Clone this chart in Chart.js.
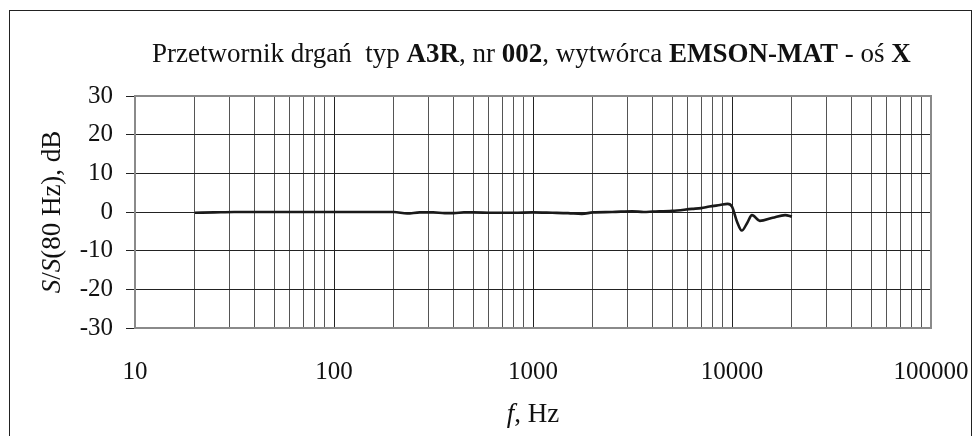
<!DOCTYPE html>
<html>
<head>
<meta charset="utf-8">
<script src="https://cdn.jsdelivr.net/npm/chart.js@4.4.1/dist/chart.umd.min.js"></script>
<style>
  html, body { margin: 0; padding: 0; background: #fff; }
  #wrap { width: 975px; height: 436px; position: relative; }
</style>
</head>
<body>
<div id="wrap"><canvas id="c" width="975" height="436"></canvas></div>
<script>
// frequency response
const freqHz = [20, 25, 31.5, 40, 50, 63, 80, 100, 125, 160, 200, 233, 270, 315, 360, 400, 450, 500, 630, 800, 1000, 1250, 1500, 1760, 2000, 2500, 3150, 3600, 4000, 5000, 6300, 7000, 7700, 8700, 9500, 10000, 10600, 11200, 11900, 12600, 13800, 16000, 18500, 20000];
const gainDb = [-0.2, -0.1, 0, 0, 0, 0, 0, 0, 0, 0, 0, -0.4, -0.1, -0.1, -0.3, -0.3, -0.1, -0.1, -0.2, -0.2, -0.1, -0.2, -0.3, -0.5, -0.1, 0, 0.2, 0, 0.1, 0.3, 0.8, 1.0, 1.4, 1.8, 2.1, 1.4, -2.5, -4.8, -2.9, -0.8, -2.3, -1.5, -0.8, -1.2];
const xTicks = [10, 100, 1000, 10000, 100000];
const yTicks = [-30, -20, -10, 0, 10, 20, 30];

const titleParts = [
  ['Przetwornik drgań  typ ', false], ['A3R', true], [', nr ', false], ['002', true],
  [', wytwórca ', false], ['EMSON-MAT', true], [' - oś ', false], ['X', true]
];

const FONT = '"Liberation Serif", "Times New Roman", serif';
const isDecade = v => Math.abs(Math.log10(v) - Math.round(Math.log10(v))) < 1e-6;

// draws a run of text pieces, each with its own style, starting at x
function drawRuns(ctx, runs, x, y, size) {
  runs.forEach(([t, style]) => {
    ctx.font = (style || '') + ' ' + size + 'px ' + FONT;
    ctx.fillText(t, x, y);
    x += ctx.measureText(t).width;
  });
}
function runsWidth(ctx, runs, size) {
  let w = 0;
  runs.forEach(([t, style]) => { ctx.font = (style || '') + ' ' + size + 'px ' + FONT; w += ctx.measureText(t).width; });
  return w;
}

// frame, title and axis titles drawn by hand (mixed bold/italic)
const decor = {
  id: 'decor',
  afterDraw(chart) {
    const ctx = chart.ctx;
    const a = chart.chartArea;
    ctx.save();
    // outer frame
    ctx.strokeStyle = '#222';
    ctx.lineWidth = 1;
    ctx.strokeRect(9.5, 10.5, 962, 500);
    // plot border
    ctx.strokeStyle = '#8a8a8a';
    ctx.lineWidth = 2;
    ctx.strokeRect(a.left, a.top, a.right - a.left, a.bottom - a.top);

    ctx.fillStyle = '#111';
    ctx.textBaseline = 'alphabetic';
    // title
    drawRuns(ctx, titleParts.map(([t, b]) => [t, b ? 'bold' : '']), 152, 62, 27);

    // x axis title
    const xt = [['f', 'italic'], [', Hz', '']];
    drawRuns(ctx, xt, (a.left + a.right) / 2 - runsWidth(ctx, xt, 27) / 2, 422, 27);

    // y axis title, rotated
    const yt = [['S', 'italic'], ['/', ''], ['S', 'italic'], ['(80 Hz), dB', '']];
    const w = runsWidth(ctx, yt, 27);
    ctx.translate(60, (a.top + a.bottom) / 2);
    ctx.rotate(-Math.PI / 2);
    drawRuns(ctx, yt, -w / 2, 0, 27);
    ctx.restore();
  }
};

new Chart(document.getElementById('c'), {
  type: 'line',
  data: {
    datasets: [{
      data: freqHz.map((f, i) => ({ x: f, y: gainDb[i] })),
      borderColor: '#1a1a1a',
      borderWidth: 2.6,
      pointRadius: 0,
      cubicInterpolationMode: 'monotone',
      fill: false
    }]
  },
  options: {
    responsive: false,
    animation: false,
    layout: { padding: { left: 0, right: 44, top: 96, bottom: 0 } },
    plugins: { legend: { display: false }, title: { display: false }, tooltip: { enabled: false } },
    scales: {
      x: {
        type: 'logarithmic',
        min: 10,
        max: 100000,
        afterFit: s => { s.height = 108; s.paddingLeft = 0; s.paddingRight = 0; },
        afterBuildTicks: s => {
          const t = [];
          for (let d = 10; d < 100000; d *= 10) for (let k = 1; k < 10; k++) t.push({ value: d * k });
          t.push({ value: 100000 });
          s.ticks = t;
        },
        border: { display: false },
        grid: {
          drawTicks: false,
          color: c => isDecade(c.tick.value) ? '#222' : '#555',
          lineWidth: 1
        },
        ticks: {
          autoSkip: false,
          maxRotation: 0,
          padding: 29,
          color: '#111',
          font: { family: FONT, size: 25 },
          callback: v => xTicks.includes(v) ? String(v) : ''
        }
      },
      y: {
        min: -30,
        max: 30,
        afterFit: s => { s.width = 135; s.paddingTop = 0; s.paddingBottom = 0; },
        afterBuildTicks: s => { s.ticks = yTicks.map(v => ({ value: v })); },
        border: { display: false },
        grid: { color: '#222', lineWidth: 1, tickLength: 9 },
        ticks: {
          padding: 13,
          color: '#111',
          font: { family: FONT, size: 25 }
        }
      }
    }
  },
  plugins: [decor]
});
</script>
</body>
</html>
